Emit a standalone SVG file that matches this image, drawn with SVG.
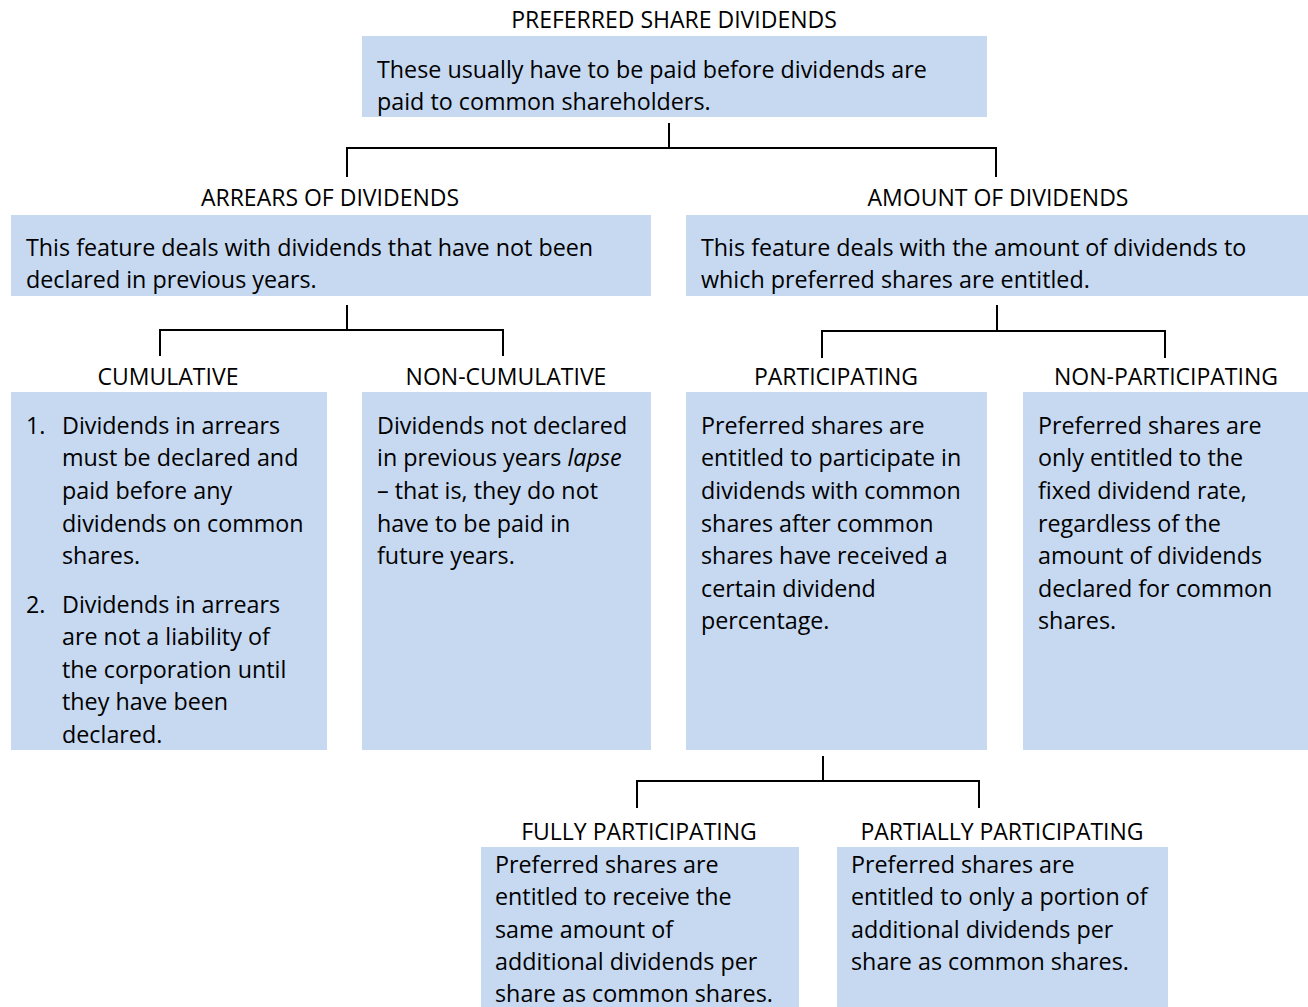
<svg xmlns="http://www.w3.org/2000/svg" width="1308" height="1007" viewBox="0 0 1308 1007">
  <style>
    .box { fill: #C6D9F1; }
    .title { font-family: "Open Sans", "Liberation Sans", sans-serif; font-size: 23px; fill: #000; text-anchor: middle; }
    .body { font-family: "Open Sans", "Liberation Sans", sans-serif; font-size: 23.3px; fill: #000; }
    .link { fill: none; stroke: #000; stroke-width: 2; }
  </style>
  <rect width="1308" height="1007" fill="#fff"/>

  <g id="connectors">
    <path class="link" d="M669,123 V148 M347,177 V148 H996 V177"/>
    <path class="link" d="M347,305 V330 M160,356 V330 H503 V356"/>
    <path class="link" d="M997,305 V331 M822,358 V331 H1165 V358"/>
    <path class="link" d="M823,756 V781 M637,808 V781 H979 V808"/>
  </g>

  <g id="preferred">
    <text class="title" x="674" y="28">PREFERRED SHARE DIVIDENDS</text>
    <rect class="box" x="362" y="36" width="625" height="81"/>
    <text class="body" x="377" y="78">These usually have to be paid before dividends are</text>
    <text class="body" x="377" y="110">paid to common shareholders.</text>
  </g>

  <g id="arrears">
    <text class="title" x="330" y="206">ARREARS OF DIVIDENDS</text>
    <rect class="box" x="11" y="215" width="640" height="81"/>
    <text class="body" x="26" y="256">This feature deals with dividends that have not been</text>
    <text class="body" x="26" y="288">declared in previous years.</text>
  </g>

  <g id="amount">
    <text class="title" x="998" y="206">AMOUNT OF DIVIDENDS</text>
    <rect class="box" x="686" y="215" width="622" height="81"/>
    <text class="body" x="701" y="256">This feature deals with the amount of dividends to</text>
    <text class="body" x="701" y="288">which preferred shares are entitled.</text>
  </g>

  <g id="cumulative">
    <text class="title" x="168" y="385">CUMULATIVE</text>
    <rect class="box" x="11" y="392" width="316" height="358"/>
    <text class="body" x="26" y="434">1.</text>
    <text class="body" x="62" y="434">Dividends in arrears</text>
    <text class="body" x="62" y="466">must be declared and</text>
    <text class="body" x="62" y="499">paid before any</text>
    <text class="body" x="62" y="532">dividends on common</text>
    <text class="body" x="62" y="564">shares.</text>
    <text class="body" x="26" y="613">2.</text>
    <text class="body" x="62" y="613">Dividends in arrears</text>
    <text class="body" x="62" y="645">are not a liability of</text>
    <text class="body" x="62" y="678">the corporation until</text>
    <text class="body" x="62" y="710">they have been</text>
    <text class="body" x="62" y="743">declared.</text>
  </g>

  <g id="non-cumulative">
    <text class="title" x="506" y="385">NON-CUMULATIVE</text>
    <rect class="box" x="362" y="392" width="289" height="358"/>
    <text class="body" x="377" y="434">Dividends not declared</text>
    <text class="body" x="377" y="466">in previous years <tspan font-style="italic">lapse</tspan></text>
    <text class="body" x="377" y="499">– that is, they do not</text>
    <text class="body" x="377" y="532">have to be paid in</text>
    <text class="body" x="377" y="564">future years.</text>
  </g>

  <g id="participating">
    <text class="title" x="836" y="385">PARTICIPATING</text>
    <rect class="box" x="686" y="392" width="301" height="358"/>
    <text class="body" x="701" y="434">Preferred shares are</text>
    <text class="body" x="701" y="466">entitled to participate in</text>
    <text class="body" x="701" y="499">dividends with common</text>
    <text class="body" x="701" y="532">shares after common</text>
    <text class="body" x="701" y="564">shares have received a</text>
    <text class="body" x="701" y="597">certain dividend</text>
    <text class="body" x="701" y="629">percentage.</text>
  </g>

  <g id="non-participating">
    <text class="title" x="1166" y="385">NON-PARTICIPATING</text>
    <rect class="box" x="1023" y="392" width="285" height="358"/>
    <text class="body" x="1038" y="434">Preferred shares are</text>
    <text class="body" x="1038" y="466">only entitled to the</text>
    <text class="body" x="1038" y="499">fixed dividend rate,</text>
    <text class="body" x="1038" y="532">regardless of the</text>
    <text class="body" x="1038" y="564">amount of dividends</text>
    <text class="body" x="1038" y="597">declared for common</text>
    <text class="body" x="1038" y="629">shares.</text>
  </g>

  <g id="fully-participating">
    <text class="title" x="639" y="840">FULLY PARTICIPATING</text>
    <rect class="box" x="481" y="847" width="318" height="160"/>
    <text class="body" x="495" y="873">Preferred shares are</text>
    <text class="body" x="495" y="905">entitled to receive the</text>
    <text class="body" x="495" y="938">same amount of</text>
    <text class="body" x="495" y="970">additional dividends per</text>
    <text class="body" x="495" y="1002">share as common shares.</text>
  </g>

  <g id="partially-participating">
    <text class="title" x="1002" y="840">PARTIALLY PARTICIPATING</text>
    <rect class="box" x="837" y="847" width="331" height="160"/>
    <text class="body" x="851" y="873">Preferred shares are</text>
    <text class="body" x="851" y="905">entitled to only a portion of</text>
    <text class="body" x="851" y="938">additional dividends per</text>
    <text class="body" x="851" y="970">share as common shares.</text>
  </g>
</svg>
